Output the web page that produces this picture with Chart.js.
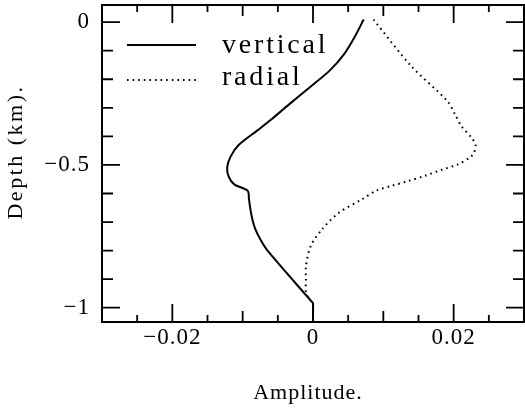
<!DOCTYPE html>
<html>
<head>
<meta charset="utf-8">
<script src="https://cdn.jsdelivr.net/npm/chart.js@4.4.1/dist/chart.umd.min.js"></script>
<style>
  html, body { margin: 0; padding: 0; background: #fff; }
  canvas { display: block; }
</style>
</head>
<body>
<canvas id="chart" width="525" height="409"></canvas>
<script>
// amplitude / depth
const vertAmp   = [0.0072, 0.0059, 0.0044, 0.0024, -0.0001, -0.0034, -0.0059, -0.0079, -0.0106, -0.0117, -0.0122, -0.0120, -0.0112, -0.0093, -0.0091, -0.0089, -0.0086, -0.0082, -0.0075, -0.0064, -0.0001, 0.0, 0.0];
const vertDepth = [0.009, -0.053, -0.113, -0.169, -0.221, -0.288, -0.340, -0.379, -0.431, -0.470, -0.508, -0.540, -0.568, -0.590, -0.620, -0.655, -0.693, -0.725, -0.760, -0.802, -0.981, -0.984, -1.05];

const radAmp   = [0.0086, 0.0140, 0.0191, 0.0202, 0.0211, 0.0225, 0.0231, 0.0229, 0.0223, 0.0206, 0.0183, 0.0159, 0.0136, 0.0112, 0.0089, 0.0070, 0.0037, 0.0013, -0.0003, -0.0010, -0.0010, -0.0010, -0.0005];
const radDepth = [0.009, -0.155, -0.276, -0.323, -0.364, -0.404, -0.428, -0.457, -0.474, -0.498, -0.517, -0.538, -0.556, -0.573, -0.591, -0.620, -0.667, -0.725, -0.783, -0.854, -0.90, -0.945, -0.975];

const seriesNames = ["vertical", "radial"];
const xTickLabels = [-0.02, 0, 0.02];
const yTickLabels = [0, -0.5, -1];
const xTickStep = 0.005;
const yTickStep = 0.1;
const xTitle = "Amplitude.";
const yTitle = "Depth (km).";

const serif = "'Liberation Serif', 'DejaVu Serif', serif";

function fmt(v) {
  return v < 0 ? "\u2212" + Math.abs(v) : String(v);
}
function isLabelled(list, v) {
  return list.some(t => Math.abs(t - v) < 1e-9);
}
function toPoints(xs, ys) {
  return xs.map((x, i) => ({ x: x, y: ys[i] }));
}
// fixed axis sizes, no extra room for overhanging labels
function fixSize(s, w, h) {
  if (w) s.width = w;
  if (h) s.height = h;
  s.paddingTop = 0; s.paddingBottom = 0;
  s.paddingLeft = 0; s.paddingRight = 0;
}

// spacing for tick labels (the scan is a bit spaced out)
const spacing = {
  id: "spacing",
  beforeUpdate(chart) { chart.ctx.letterSpacing = "1px"; },
  beforeDraw(chart) { chart.ctx.letterSpacing = "1px"; }
};

// frame with inward ticks on all four sides
const frameTicks = {
  id: "frameTicks",
  afterDatasetsDraw(chart) {
    const { ctx, chartArea: a, scales: { x, y } } = chart;
    ctx.save();
    ctx.strokeStyle = "#000";
    ctx.lineWidth = 2;
    ctx.strokeRect(a.left, a.top, a.right - a.left, a.bottom - a.top);
    ctx.lineWidth = 1.8;
    ctx.beginPath();
    x.ticks.forEach(t => {
      const px = x.getPixelForValue(t.value);
      if (px <= a.left + 1 || px >= a.right - 1) return;
      const k = Math.round(t.value / xTickStep);
      const len = k % 4 === 0 ? 18 : (k % 2 === 0 ? 11 : 7);
      ctx.moveTo(px, a.bottom); ctx.lineTo(px, a.bottom - len);
      ctx.moveTo(px, a.top); ctx.lineTo(px, a.top + len);
    });
    y.ticks.forEach(t => {
      const py = y.getPixelForValue(t.value);
      if (py <= a.top + 1 || py >= a.bottom - 1) return;
      const k = Math.round(t.value / yTickStep);
      const len = k % 5 === 0 ? 18 : 11;
      ctx.moveTo(a.left, py); ctx.lineTo(a.left + len, py);
      ctx.moveTo(a.right, py); ctx.lineTo(a.right - len, py);
    });
    ctx.stroke();
    ctx.restore();
  }
};

// legend in the top left corner and the axis titles
const extras = {
  id: "extras",
  afterDraw(chart) {
    const ctx = chart.ctx;
    ctx.save();
    ctx.fillStyle = "#000";
    ctx.strokeStyle = "#000";
    const lineYs = [45, 80];
    const textYs = [53, 85];
    chart.data.datasets.forEach((ds, i) => {
      ctx.lineWidth = ds.borderWidth;
      ctx.setLineDash(ds.borderDash || []);
      ctx.beginPath();
      ctx.moveTo(127, lineYs[i]);
      ctx.lineTo(196, lineYs[i]);
      ctx.stroke();
      ctx.setLineDash([]);
      ctx.font = "28px " + serif;
      ctx.letterSpacing = "2.8px";
      ctx.textAlign = "left";
      ctx.textBaseline = "alphabetic";
      ctx.fillText(ds.label, 222, textYs[i]);
    });

    ctx.font = "22px " + serif;
    ctx.letterSpacing = "1px";
    ctx.textAlign = "center";
    ctx.textBaseline = "middle";
    ctx.fillText(xTitle, 308, 393);

    ctx.translate(16, 152);
    ctx.rotate(-Math.PI / 2);
    ctx.letterSpacing = "2.5px";
    ctx.fillText(yTitle, 0, 0);
    ctx.restore();
  }
};

new Chart(document.getElementById("chart"), {
  type: "scatter",
  data: {
    datasets: [
      {
        label: seriesNames[0],
        data: toPoints(vertAmp, vertDepth),
        showLine: true,
        borderColor: "#000",
        borderWidth: 2,
        pointRadius: 0,
        tension: 0.3
      },
      {
        label: seriesNames[1],
        data: toPoints(radAmp, radDepth),
        showLine: true,
        borderColor: "#000",
        borderWidth: 2,
        borderDash: [1.6, 4],
        pointRadius: 0,
        tension: 0.3
      }
    ]
  },
  options: {
    responsive: false,
    animation: false,
    layout: { padding: { top: 5, right: 1, left: 0, bottom: 0 } },
    plugins: {
      legend: { display: false },
      tooltip: { enabled: false }
    },
    scales: {
      x: {
        type: "linear",
        position: "bottom",
        min: -0.03,
        max: 0.03,
        afterFit: s => fixSize(s, 0, 87),
        grid: { display: false, drawTicks: false },
        border: { display: false },
        ticks: {
          stepSize: xTickStep,
          autoSkip: false,
          maxRotation: 0,
          padding: 2,
          color: "#000",
          font: { family: serif, size: 23 },
          callback: v => isLabelled(xTickLabels, v) ? fmt(v) : ""
        }
      },
      y: {
        type: "linear",
        min: -1.05,
        max: 0.06,
        afterFit: s => fixSize(s, 102, 0),
        grid: { display: false, drawTicks: false },
        border: { display: false },
        ticks: {
          stepSize: yTickStep,
          includeBounds: false,
          autoSkip: false,
          padding: 12,
          color: "#000",
          font: { family: serif, size: 23 },
          callback: v => isLabelled(yTickLabels, v) ? fmt(v) : ""
        }
      }
    }
  },
  plugins: [spacing, frameTicks, extras]
});
</script>
</body>
</html>
